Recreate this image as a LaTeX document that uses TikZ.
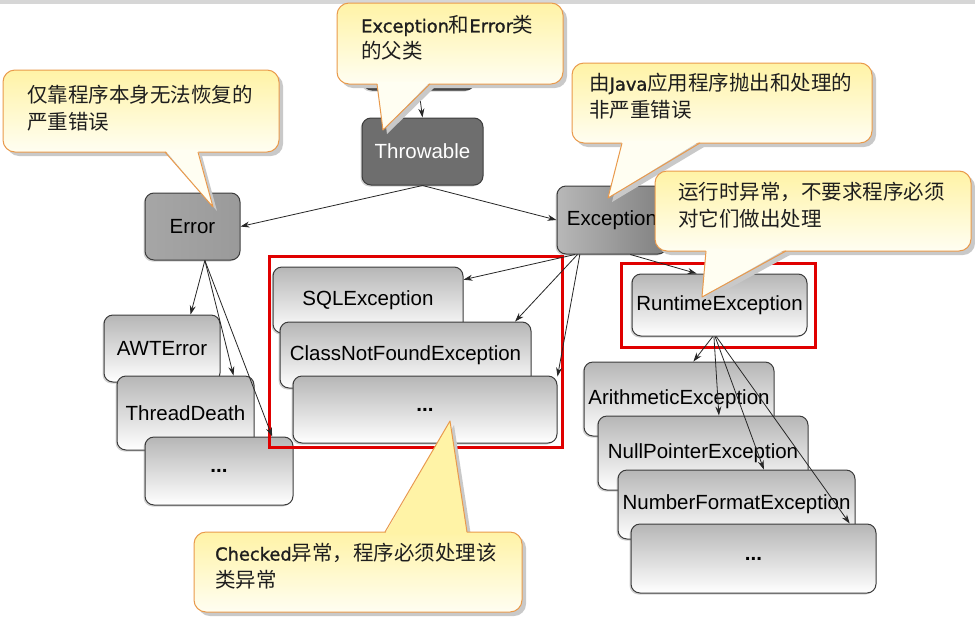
\documentclass[tikz,border=0pt]{standalone}
\usepackage{fontspec}
\setmainfont{Liberation Sans}
\newfontfamily\cjk{Noto Sans CJK SC}
\newfontfamily\latf[Scale=0.87,FakeBold=1.3]{DejaVu Sans}
\newcommand\lt[1]{{\latf #1}}
\usetikzlibrary{arrows.meta,shadows}
\definecolor{calltop}{HTML}{FFF3A6}
\definecolor{callbot}{HTML}{FFFEF2}
\definecolor{callbd}{HTML}{E99A4C}
\definecolor{callshadow}{HTML}{C9C9C9}
\definecolor{calltxt}{HTML}{1E1E1E}
\definecolor{nodebd}{HTML}{3C3C3C}
\definecolor{leaftop}{HTML}{B6B6B6}
\definecolor{bandgray}{HTML}{D6D6D6}
\definecolor{redline}{HTML}{E00000}
\definecolor{errl}{HTML}{A6A6A6}
\definecolor{errm}{HTML}{C2C2C2}
\definecolor{errr}{HTML}{9A9A9A}
\newcommand\callout[9]{%
  \ifnum#9>0 \def\ptcol{callbot}\else\def\ptcol{calltop}\fi
  \fill[callshadow,rounded corners=12pt] (#1+4,#2+4) rectangle (#3+4,#4+4);
  \begin{scope}[shift={(4,4)}]
    \fill[callshadow] (#5,#7) -- (#8) -- (#6,#7) -- cycle;
  \end{scope}
  \path[top color=calltop,bottom color=callbot,draw=callbd,line width=1pt,rounded corners=12pt] (#1,#2) rectangle (#3,#4);
  \fill[\ptcol] (#5,#7-2*#9) -- (#8) -- (#6,#7-2*#9) -- cycle;
  \draw[callbd,line width=1pt,line join=round] (#5,#7) -- (#8) -- (#6,#7);
}
\begin{document}
\begin{tikzpicture}[x=1pt,y=-1pt,
  box/.style={draw=nodebd,line width=1pt,rounded corners=9pt,inner sep=0pt,
    font=\fontsize{20.5}{23}\selectfont,text=black,
    drop shadow={shadow xshift=-1.5pt,shadow yshift=-1.5pt,opacity=.35}},
  leaf/.style={box,top color=leaftop,bottom color=white},
  arr/.style={draw=black!85,line width=0.8pt,-{Stealth[length=9pt,width=6pt]}},
  redbox/.style={draw=redline,line width=3pt},
  calltext/.style={anchor=north west,inner sep=0pt,align=left,text=calltxt,
    font=\fontsize{20.5}{26.5}\cjk}]
\useasboundingbox (0,0) rectangle (975,619);
\fill[white] (0,0) rectangle (975,619);
\fill[bandgray] (0,0) rectangle (975,4);

% nodes
\node[box,fill=black!70,minimum width=112pt,minimum height=56pt] (obj) at (419,62) {};
\node[box,fill=black!57,text=white,minimum width=121pt,minimum height=67pt] (thr) at (422.5,151.5) {Throwable};
\node[box,left color=errl,middle color=errm,right color=errr,minimum width=95pt,minimum height=67pt] (err) at (192.5,226.5) {Error};
\node[box,left color=black!28,right color=black!50,minimum width=110pt,minimum height=68pt] (exc) at (612,220) {Exception};
\node[leaf,minimum width=190pt,minimum height=66pt] (sql) at (368,300) {SQLException};
\node[leaf,minimum width=251pt,minimum height=66pt] (cnf) at (405.5,355) {ClassNotFoundException};
\node[leaf,minimum width=264pt,minimum height=67pt] (cdots) at (425,409.5) {\textbf{...}};
\node[leaf,minimum width=116pt,minimum height=67pt] (awt) at (162,348.5) {AWTError};
\node[leaf,minimum width=137pt,minimum height=74pt] (td) at (185.5,413) {ThreadDeath};
\node[leaf,minimum width=148pt,minimum height=68pt] (edots) at (219,471) {\textbf{...}};
\node[leaf,minimum width=175pt,minimum height=62pt] (rt) at (719.5,305) {RuntimeException};
\node[leaf,minimum width=190pt,minimum height=74pt] (ar) at (679,399) {ArithmeticException};
\node[leaf,minimum width=210pt,minimum height=74pt] (np) at (703,453) {NullPointerException};
\node[leaf,minimum width=237pt,minimum height=69pt] (nf) at (736.5,504.5) {NumberFormatException};
\node[leaf,minimum width=245pt,minimum height=69pt] (rdots) at (753.5,558.5) {\textbf{...}};

% red frames
\draw[redbox] (269,256) rectangle (562,447);
\draw[redbox] (621,263) rectangle (815,347);

% connectors
\draw[arr] (obj.south) -- (thr.north);
\draw[arr] (thr.south) -- (err.east);
\draw[arr] (thr.south) -- (exc.west);
\draw[arr] (err.-70) -- (awt.50);
\draw[arr] (err.-70) -- (td.38.5);
\draw[arr] (err.-70) -- (edots.33);
\draw[arr] (exc.-137) -- (sql.12);
\draw[arr] (exc.-135) -- (cnf.17.2);
\draw[arr] (exc.-133) -- (cdots.14.8);
\draw[arr] (exc.-62) -- (rt.126);
\draw[arr] (rt.-102) -- (ar.69);
\draw[arr] (rt.-100) -- (np.67);
\draw[arr] (rt.-98) -- (nf.52);
\draw[arr] (rt.-96) -- (rdots.20);

% callouts
\callout{3}{70}{279}{152}{165}{198}{152}{213,207}{1}
\node[calltext] (c2) at (27,85) {仅靠程序本身无法恢复的\\严重错误};
\callout{337}{3}{563}{84}{377}{430}{84}{383,130}{1}
\node[calltext] (c1) at (361,15) {\lt{Exception}和\lt{Error}类\\的父类};
\callout{572}{63}{872}{143}{622}{700}{143}{608,198}{1}
\node[calltext] (c3) at (589,73) {由\lt{Java}应用程序抛出和处理的\\非严重错误};
\callout{655}{171}{971}{251}{706}{786}{251}{702,297}{1}
\node[calltext] (c4) at (678,182) {运行时异常，不要求程序必须\\对它们做出处理};
\callout{194}{532}{522}{612}{385}{467}{532}{450,421}{-1}
\node[calltext] (c5) at (215,543) {\lt{Checked}异常，程序必须处理该\\类异常};
\end{tikzpicture}
\end{document}
